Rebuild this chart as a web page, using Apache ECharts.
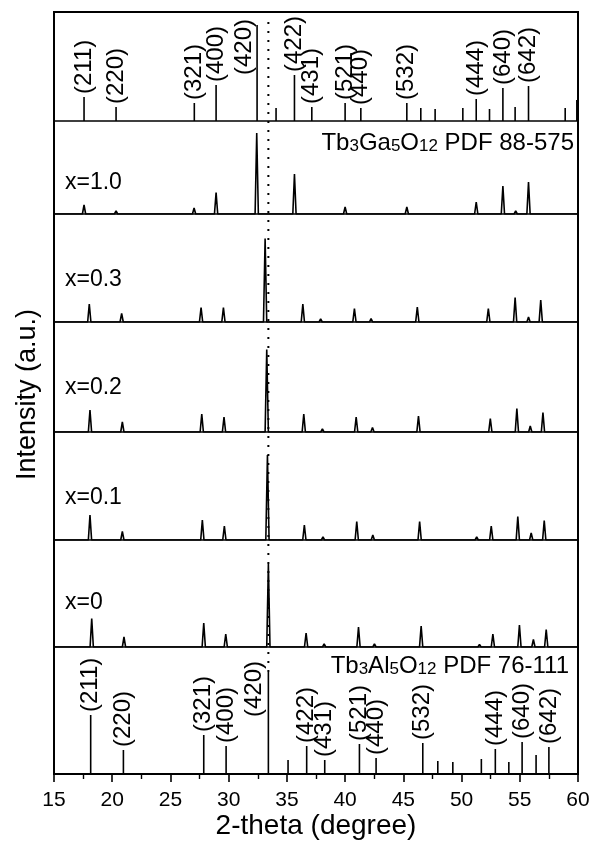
<!DOCTYPE html>
<html>
<head>
<meta charset="utf-8">
<script src="https://cdn.jsdelivr.net/npm/echarts@6/dist/echarts.min.js"></script>
<style>
    html, body { margin: 0; padding: 0; background: #fff; }
    #main { width: 593px; height: 841px; }
</style>
</head>
<body>
<div id="main"></div>
<script>
    // Tb3Ga5O12 PDF 88-575 sticks (top panel)
    var gaPos = [17.58, 20.33, 27.05, 28.92, 32.44, 34.07, 35.65, 37.14, 40.0, 41.35, 45.3, 46.5, 47.73, 50.11, 51.26, 52.4, 53.55, 54.6, 55.75, 58.9, 59.9];
    var gaInt = [24, 14, 18, 36, 96, 13, 46, 14, 18, 13, 18, 13, 12, 13, 22, 12, 33, 14, 35, 13, 21];
    var gaHkl = ['(211)', '(220)', '(321)', '(400)', '(420)', '', '(422)', '(431)', '(521)', '(440)', '(532)', '', '', '', '(444)', '', '(640)', '', '(642)', '', ''];

    // Tb3Al5O12 PDF 76-111 sticks (bottom panel)
    var alPos = [18.15, 20.96, 27.86, 29.78, 33.41, 35.1, 36.7, 38.25, 41.23, 42.66, 46.67, 47.96, 49.25, 51.7, 52.9, 54.06, 55.2, 56.4, 57.5];
    var alInt = [59, 24, 39, 28, 102, 14, 28, 14, 30, 16, 31, 13, 12, 15, 25, 12, 32, 19, 27];
    var alHkl = ['(211)', '(220)', '(321)', '(400)', '(420)', '', '(422)', '(431)', '(521)', '(440)', '(532)', '', '', '', '(444)', '', '(640)', '', '(642)'];

    // measured patterns, peak position / height
    var x10Pos = [17.58, 20.33, 27.03, 28.92, 32.41, 35.65, 37.14, 40.0, 41.35, 45.3, 51.26, 53.55, 54.65, 55.75, 58.98];
    var x10Int = [9, 3, 6, 21.5, 81, 40, 2, 7, 2, 7, 12, 28, 3, 32, 2];
    var x03Pos = [18.03, 20.81, 27.63, 29.55, 33.13, 36.37, 37.9, 40.8, 42.23, 46.2, 47.5, 51.1, 52.3, 54.6, 55.75, 56.8];
    var x03Int = [18, 8.5, 14.5, 14.5, 83.5, 18, 3, 13.5, 3.5, 15, 1, 2, 13.5, 24.5, 5, 22];
    var x02Pos = [18.09, 20.87, 27.69, 29.6, 33.27, 36.45, 38.05, 40.95, 42.35, 46.3, 47.67, 51.26, 52.47, 54.75, 55.9, 56.99];
    var x02Int = [22, 10, 18, 15, 82.5, 18, 3, 15, 4.5, 16, 1, 2, 13.5, 23.5, 6, 19.5];
    var x01Pos = [18.09, 20.87, 27.74, 29.63, 33.33, 36.5, 38.1, 41.0, 42.38, 46.4, 47.67, 51.3, 52.55, 54.83, 55.98, 57.1];
    var x01Int = [25, 8.5, 20, 14, 85, 15, 3, 18.5, 5, 18.5, 1, 3, 14, 23.5, 7, 19.5];
    var x00Pos = [18.24, 21.01, 27.86, 29.75, 33.41, 35.08, 36.65, 38.2, 41.15, 42.52, 46.53, 47.88, 51.54, 52.69, 54.97, 56.17, 57.27];
    var x00Int = [28.5, 10, 24, 13, 83, 1, 14, 3, 20, 3, 21, 1, 2.5, 13, 22, 7.5, 17.5];

    var xTicks = [15, 20, 25, 30, 35, 40, 45, 50, 55, 60];
    var sampleNames = ['x=1.0', 'x=0.3', 'x=0.2', 'x=0.1', 'x=0'];
    var refLine = 33.41;

    var font = 'Arial, "Liberation Sans", sans-serif';
    // panel top / bottom in px
    var panels = [[12, 121], [121, 214], [214, 322], [322, 432], [432, 540], [540, 647], [647, 774]];

    function sticks(pos, h, hkl, special) {
        var d = [];
        for (let i = 0; i < pos.length; i++) {
            let item = { name: hkl[i], value: [pos[i], h[i]] };
            if (hkl[i] === '(420)') {
                item.label = { position: special };
            }
            d.push(item);
        }
        return d;
    }

    function trace(pos, h) {
        var d = [[15, 0]];
        for (let i = 0; i < pos.length; i++) {
            d.push([pos[i] - 0.14, 0], [pos[i], h[i]], [pos[i] + 0.14, 0]);
        }
        d.push([60, 0]);
        return d;
    }

    var grid = [], xAxis = [], yAxis = [];
    for (let i = 0; i < panels.length; i++) {
        grid.push({ left: 54, right: 15, top: panels[i][0], height: panels[i][1] - panels[i][0] });
        let last = i === panels.length - 1;
        xAxis.push({
            gridIndex: i, type: 'value', min: 15, max: 60, interval: 5,
            axisLine: { show: true, onZero: false, lineStyle: { color: '#000', width: 1.6 } },
            axisTick: { show: last, length: 8, lineStyle: { color: '#000', width: 1.6 } },
            minorTick: { show: last, splitNumber: 2, length: 5, lineStyle: { color: '#000', width: 1.4 } },
            axisLabel: { show: last, fontSize: 21, color: '#000', fontFamily: font, margin: 16,
                formatter: function (v) { return xTicks.indexOf(v) >= 0 ? String(v) : ''; } },
            splitLine: { show: false }
        });
        yAxis.push({ gridIndex: i, type: 'value', min: 0, max: panels[i][1] - panels[i][0], show: false });
    }
    // outer frame
    grid.push({ left: 54, right: 15, top: 12, height: 762, show: true, borderColor: '#000', borderWidth: 2, backgroundColor: 'transparent' });
    xAxis.push({ gridIndex: 7, type: 'value', min: 15, max: 60, show: false });
    yAxis.push({ gridIndex: 7, type: 'value', min: 0, max: 762, show: false });

    var stickLabel = {
        show: true, position: 'top', rotate: 90, align: 'left', verticalAlign: 'middle',
        distance: 3, fontSize: 24, color: '#000', fontFamily: font, formatter: '{b}'
    };

    var series = [
        { type: 'bar', xAxisIndex: 0, yAxisIndex: 0, barWidth: 1.6, itemStyle: { color: '#000' },
          label: stickLabel, data: sticks(gaPos, gaInt, gaHkl, [-12, 50]) },
        { type: 'bar', xAxisIndex: 6, yAxisIndex: 6, barWidth: 1.6, itemStyle: { color: '#000' },
          label: stickLabel, data: sticks(alPos, alInt, alHkl, [-13, 45]) }
    ];
    var traces = [[x10Pos, x10Int], [x03Pos, x03Int], [x02Pos, x02Int], [x01Pos, x01Int], [x00Pos, x00Int]];
    for (let i = 0; i < traces.length; i++) {
        series.push({
            type: 'line', xAxisIndex: i + 1, yAxisIndex: i + 1, symbol: 'none',
            lineStyle: { color: '#000', width: 1.6 }, data: trace(traces[i][0], traces[i][1])
        });
    }
    // dotted guide line
    series.push({
        type: 'line', xAxisIndex: 7, yAxisIndex: 7, symbol: 'none',
        lineStyle: { color: '#000', width: 2, type: [2, 7] },
        data: [[refLine, 102], [refLine, 753]]
    });

    var sampleY = [183, 280, 388, 498, 603];
    var rich = {
        n: { fontSize: 24, fontFamily: font, color: '#000' },
        s: { fontSize: 17, fontFamily: font, color: '#000', verticalAlign: 'bottom' }
    };
    var graphic = [
        { type: 'text', left: 14, top: 309, rotation: Math.PI / 2,
          style: { text: 'Intensity (a.u.)', fontSize: 27, fontFamily: font, fill: '#000' } },
        { type: 'text', x: 316, y: 826,
          style: { text: '2-theta (degree)', fontSize: 28, fontFamily: font, fill: '#000', align: 'center', verticalAlign: 'middle' } },
        { type: 'text', x: 574, y: 143,
          style: { text: '{n|Tb}{s|3}{n|Ga}{s|5}{n|O}{s|12}{n| PDF 88-575}', align: 'right', verticalAlign: 'middle', rich: rich } },
        { type: 'text', x: 569, y: 666,
          style: { text: '{n|Tb}{s|3}{n|Al}{s|5}{n|O}{s|12}{n| PDF 76-111}', align: 'right', verticalAlign: 'middle', rich: rich } }
    ];
    for (let i = 0; i < sampleNames.length; i++) {
        graphic.push({ type: 'text', x: 65, y: sampleY[i],
            style: { text: sampleNames[i], fontSize: 23, fontFamily: font, fill: '#000', verticalAlign: 'middle' } });
    }

    var myChart = echarts.init(document.getElementById('main'));
    myChart.setOption({
        animation: false,
        backgroundColor: '#fff',
        grid: grid,
        xAxis: xAxis,
        yAxis: yAxis,
        series: series,
        graphic: graphic
    });
</script>
</body>
</html>
